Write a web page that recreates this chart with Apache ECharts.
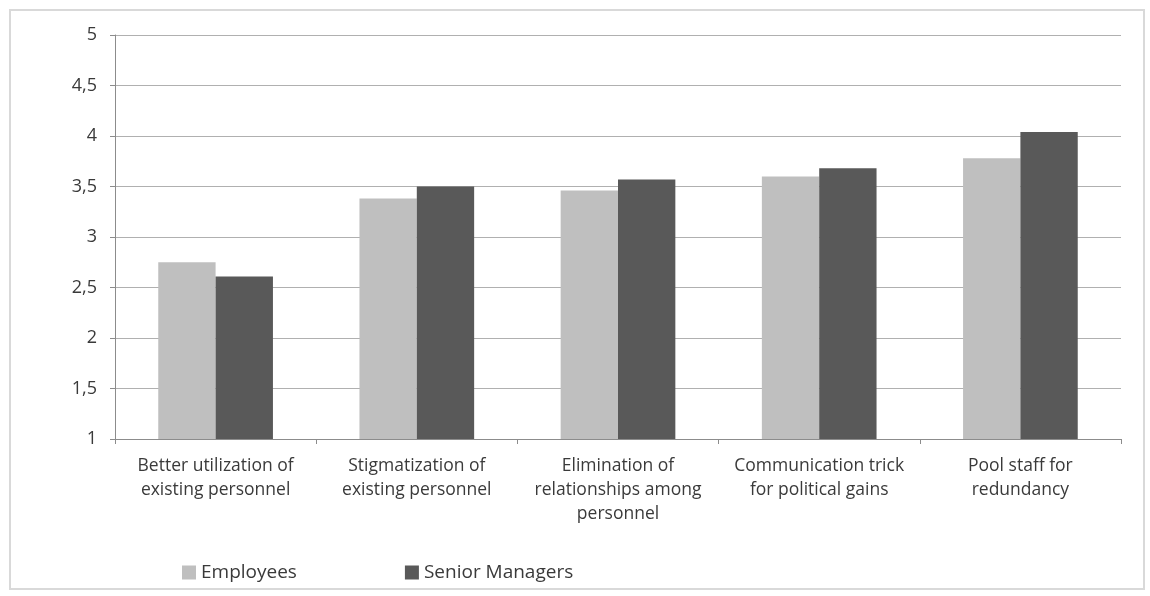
<!DOCTYPE html>
<html>
<head>
<meta charset="utf-8">
<script src="https://cdn.jsdelivr.net/npm/echarts@6/dist/echarts.min.js"></script>
<style>
  html, body { margin: 0; padding: 0; background: #fff; }
  #frame { position: absolute; left: 9px; top: 9px; width: 1136px; height: 581px; border: 2px solid #d9d9d9; box-sizing: border-box; }
  #chart { position: absolute; left: 0; top: 0; width: 1150px; height: 596px; }
</style>
</head>
<body>
<div id="frame"></div>
<div id="chart"></div>
<script>
// Categories (axis labels, wrapped) and mean scores per group
const categories = [
  'Better utilization of\nexisting personnel',
  'Stigmatization of\nexisting personnel',
  'Elimination of\nrelationships among\npersonnel',
  'Communication trick\nfor political gains',
  'Pool staff for\nredundancy'
];
const employees = [2.75, 3.38, 3.46, 3.60, 3.78];
const seniorManagers = [2.61, 3.50, 3.57, 3.68, 4.04];
const yTicks = [1, 1.5, 2, 2.5, 3, 3.5, 4, 4.5, 5];

const textColor = '#3a3a3a';
const font = '"Open Sans", sans-serif';

const chart = echarts.init(document.getElementById('chart'), null, { renderer: 'canvas' });
chart.setOption({
  animation: false,
  backgroundColor: 'transparent',
  grid: { left: 115, right: 29, top: 35, bottom: 157, containLabel: false },
  legend: {
    left: 177,
    top: 558,
    itemWidth: 14,
    itemHeight: 14,
    itemGap: 108,
    icon: 'rect',
    textStyle: { color: textColor, fontSize: 19, fontFamily: font },
    data: ['Employees', 'Senior Managers']
  },
  xAxis: {
    type: 'category',
    data: categories,
    axisLine: { lineStyle: { color: '#8c8c8c', width: 1 } },
    axisTick: { show: true, length: 5, alignWithLabel: false, lineStyle: { color: '#8c8c8c' } },
    axisLabel: {
      color: textColor, fontSize: 17.5, fontFamily: font, lineHeight: 24, margin: 15, interval: 0
    }
  },
  yAxis: {
    type: 'value',
    min: 1,
    max: 5,
    interval: 0.5,
    axisLine: { show: true, lineStyle: { color: '#8c8c8c', width: 1 } },
    axisTick: { show: true, length: 5, lineStyle: { color: '#8c8c8c' } },
    splitLine: { show: true, lineStyle: { color: '#b0b0b0', width: 1 } },
    axisLabel: {
      color: textColor, fontSize: 18, fontFamily: font, margin: 18,
      formatter: v => yTicks.includes(v) ? String(v).replace('.', ',') : ''
    }
  },
  series: [
    {
      name: 'Employees', type: 'bar', data: employees,
      itemStyle: { color: '#bfbfbf' },
      barGap: '0%', barCategoryGap: '43%'
    },
    {
      name: 'Senior Managers', type: 'bar', data: seniorManagers,
      itemStyle: { color: '#595959' },
      barGap: '0%', barCategoryGap: '43%'
    }
  ]
});
</script>
</body>
</html>
